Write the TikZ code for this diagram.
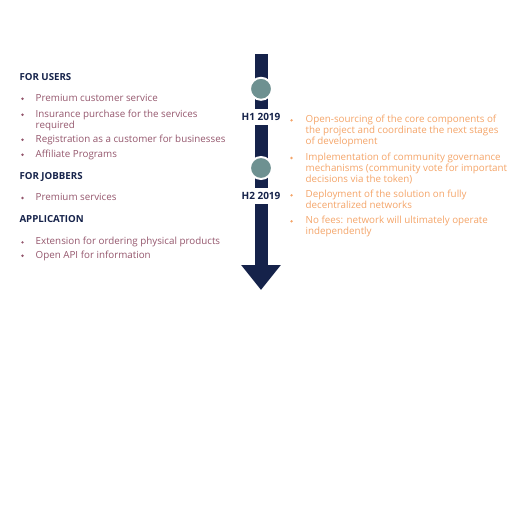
\documentclass[tikz,border=0pt]{standalone}
\usepackage{fontspec}
\setmainfont{Open Sans}
\usetikzlibrary{arrows.meta,positioning}

\definecolor{navy}{HTML}{15224A}
\definecolor{stone}{HTML}{6E9191}
\definecolor{mauve}{HTML}{94566C}
\definecolor{peach}{HTML}{F4A468}

\tikzset{
  head/.style={font=\bfseries\fontsize{9.7}{11}\selectfont, text=navy, anchor=base west, inner sep=0pt},
  item/.style={font=\fontsize{9.8}{11}\selectfont, anchor=base west, inner sep=0pt, align=left},
  dot/.style={circle, fill, inner sep=0pt, minimum size=2.6pt},
  milestone/.style={circle, fill=stone, draw=white, line width=2pt, minimum size=22pt, inner sep=0pt},
  period/.style={fill=white, font=\bfseries\fontsize{10}{11}\selectfont, text=navy, minimum height=16pt, inner xsep=1pt}
}

\begin{document}
\begin{tikzpicture}[x=1pt,y=-1pt]
  \useasboundingbox (0,0) rectangle (526,522);

  % timeline arrow
  \coordinate (top) at (261,54);
  \coordinate (tip) at (261,290);
  \draw[navy, line width=13pt, -{Triangle[width=38pt,length=25pt]}] (top) -- (tip);

  \node[milestone] (m1) at (261,88.8) {};
  \node[period] (h1) at (261,117) {H1 2019};
  \node[milestone] (m2) at (261,168) {};
  \node[period] (h2) at (261,195.5) {H2 2019};

  % left column (base of a wrapped item = its last line)
  \node[head] (users) at (19.3,80.5) {FOR USERS};
  \node[item, text=mauve] (u1) at (35.5,101.2) {Premium customer service};
  \node[item, text=mauve] (u2) at (35.5,128.2) {Insurance purchase for the services\\required};
  \node[item, text=mauve] (u3) at (35.5,142.2) {Registration as a customer for businesses};
  \node[item, text=mauve] (u4) at (35.5,157.2) {Affiliate Programs};

  \node[head] (jobbers) at (19.3,179.5) {FOR JOBBERS};
  \node[item, text=mauve] (j1) at (35.5,200.5) {Premium services};

  \node[head] (app) at (19.3,222.8) {APPLICATION};
  \node[item, text=mauve] (a1) at (35.5,244.8) {Extension for ordering physical products};
  \node[item, text=mauve] (a2) at (35.5,258.2) {Open API for information};

  \node[dot, mauve] (bu1) at (22.5,98.7) {};
  \node[dot, mauve] (bu2) at (22.5,114.7) {};
  \node[dot, mauve] (bu3) at (22.5,139.7) {};
  \node[dot, mauve] (bu4) at (22.5,154.7) {};
  \node[dot, mauve] (bj1) at (22.5,198) {};
  \node[dot, mauve] (ba1) at (22.5,242.3) {};
  \node[dot, mauve] (ba2) at (22.5,255.7) {};

  % right column
  \node[item, text=peach] (r1) at (305.5,144.8) {Open-sourcing of the core components of\\the project and coordinate the next stages\\of development};
  \node[item, text=peach] (r2) at (305.5,182.5) {Implementation of community governance\\mechanisms (community vote for important\\decisions via the token)};
  \node[item, text=peach] (r3) at (305.5,208.8) {Deployment of the solution on fully\\decentralized networks};
  \node[item, text=peach] (r4) at (305.5,234.8) {No fees: network will ultimately operate\\independently};

  \node[dot, peach] (br1) at (291.5,120.3) {};
  \node[dot, peach] (br2) at (291.5,158) {};
  \node[dot, peach] (br3) at (291.5,195.3) {};
  \node[dot, peach] (br4) at (291.5,221.3) {};
\end{tikzpicture}
\end{document}
